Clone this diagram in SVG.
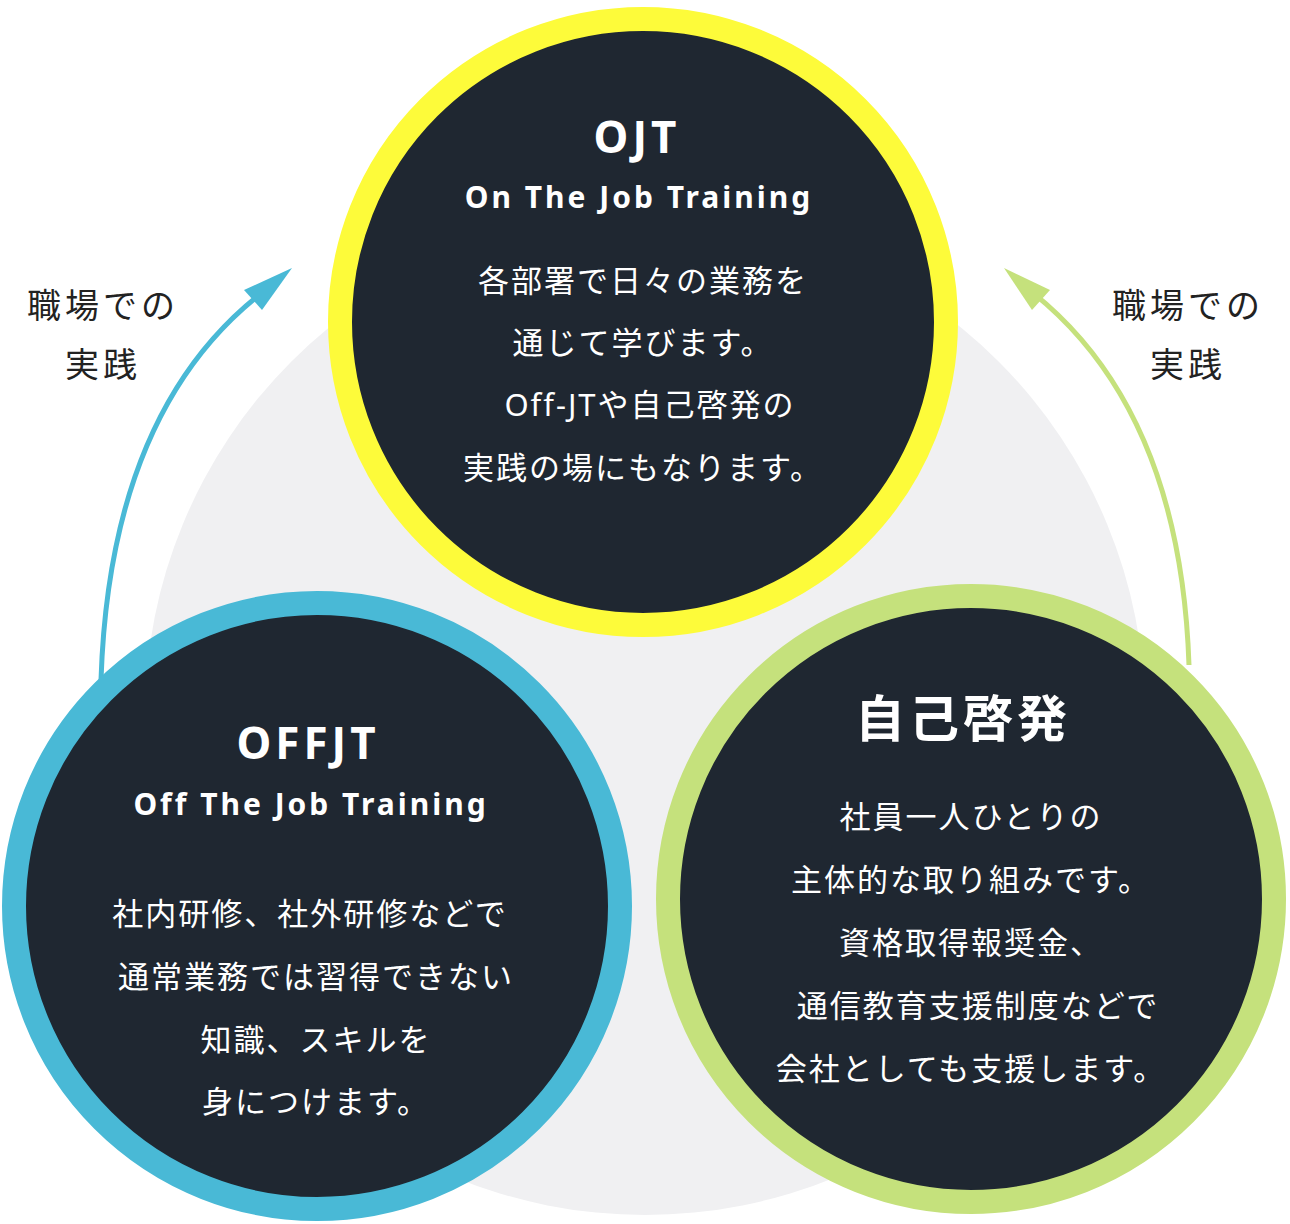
<svg xmlns="http://www.w3.org/2000/svg" width="1290" height="1224" viewBox="0 0 1290 1224">
<style>
.t{font-family:"Noto Sans","Noto Sans CJK JP",sans-serif;fill:#fff;text-anchor:middle}
.h{font-size:44px;font-weight:bold;letter-spacing:4px}
.s{font-size:30px;font-weight:bold;letter-spacing:3px}
.b{font-size:31px;letter-spacing:2px}
.l{font-family:"Noto Sans CJK JP",sans-serif;font-size:34px;fill:#222;text-anchor:middle;letter-spacing:4px}
</style>
<defs>
<marker id="ab" markerWidth="8" markerHeight="8" refX="4" refY="4" orient="auto" markerUnits="userSpaceOnUse" viewBox="0 0 8 8"><path d="M0,0L8,4L0,8Z" fill="#49b9d6"/></marker>
<marker id="ag" markerWidth="8" markerHeight="8" refX="4" refY="4" orient="auto" markerUnits="userSpaceOnUse" viewBox="0 0 8 8"><path d="M0,0L8,4L0,8Z" fill="#c5e17c"/></marker>
</defs>
<circle cx="645" cy="715" r="500" fill="#f0f0f2"/>
<g id="connectors">
<path d="M101,680 Q110,400 275,283" fill="none" stroke="#49b9d6" stroke-width="5"/>
<path d="M262,310 L292,268 L244,290Z" fill="#49b9d6"/>
<path d="M1189,665 Q1180,400 1020,283" fill="none" stroke="#c5e17c" stroke-width="5"/>
<path d="M1032,310 L1004,268 L1050,290Z" fill="#c5e17c"/>
</g>
<g id="label-left"><text class="l" x="103" y="318">職場での</text><text class="l" x="103" y="377">実践</text></g>
<g id="label-right"><text class="l" x="1188" y="318">職場での</text><text class="l" x="1188" y="377">実践</text></g>
<g id="ojt">
<circle cx="643" cy="322" r="303" fill="#1f2731" stroke="#fdfb3a" stroke-width="24"/>
<text class="t h" x="637" y="153">OJT</text>
<text class="t s" x="639" y="208">On The Job Training</text>
<text class="t b" x="643" y="292">各部署で日々の業務を</text>
<text class="t b" x="643" y="354">通じて学びます。</text>
<text class="t b" x="650" y="416">Off-JTや自己啓発の</text>
<text class="t b" x="643" y="479">実践の場にもなります。</text>
</g>
<g id="offjt">
<circle cx="317" cy="906" r="303" fill="#1f2731" stroke="#49b9d6" stroke-width="24"/>
<text class="t h" x="308" y="759">OFFJT</text>
<text class="t s" x="311" y="815">Off The Job Training</text>
<text class="t b" x="310" y="925">社内研修、社外研修などで</text>
<text class="t b" x="316" y="988">通常業務では習得できない</text>
<text class="t b" x="316" y="1051">知識、スキルを</text>
<text class="t b" x="316" y="1113">身につけます。</text>
</g>
<g id="jiko">
<circle cx="971" cy="899" r="303" fill="#1f2731" stroke="#c5e17c" stroke-width="24"/>
<text class="t" x="963" y="737" style="font-size:50px;font-weight:bold;letter-spacing:4px">自己啓発</text>
<text class="t b" x="971" y="828">社員一人ひとりの</text>
<text class="t b" x="971" y="891">主体的な取り組みです。</text>
<text class="t b" x="971" y="954">資格取得報奨金、</text>
<text class="t b" x="978" y="1017">通信教育支援制度などで</text>
<text class="t b" x="971" y="1080">会社としても支援します。</text>
</g>
</svg>
